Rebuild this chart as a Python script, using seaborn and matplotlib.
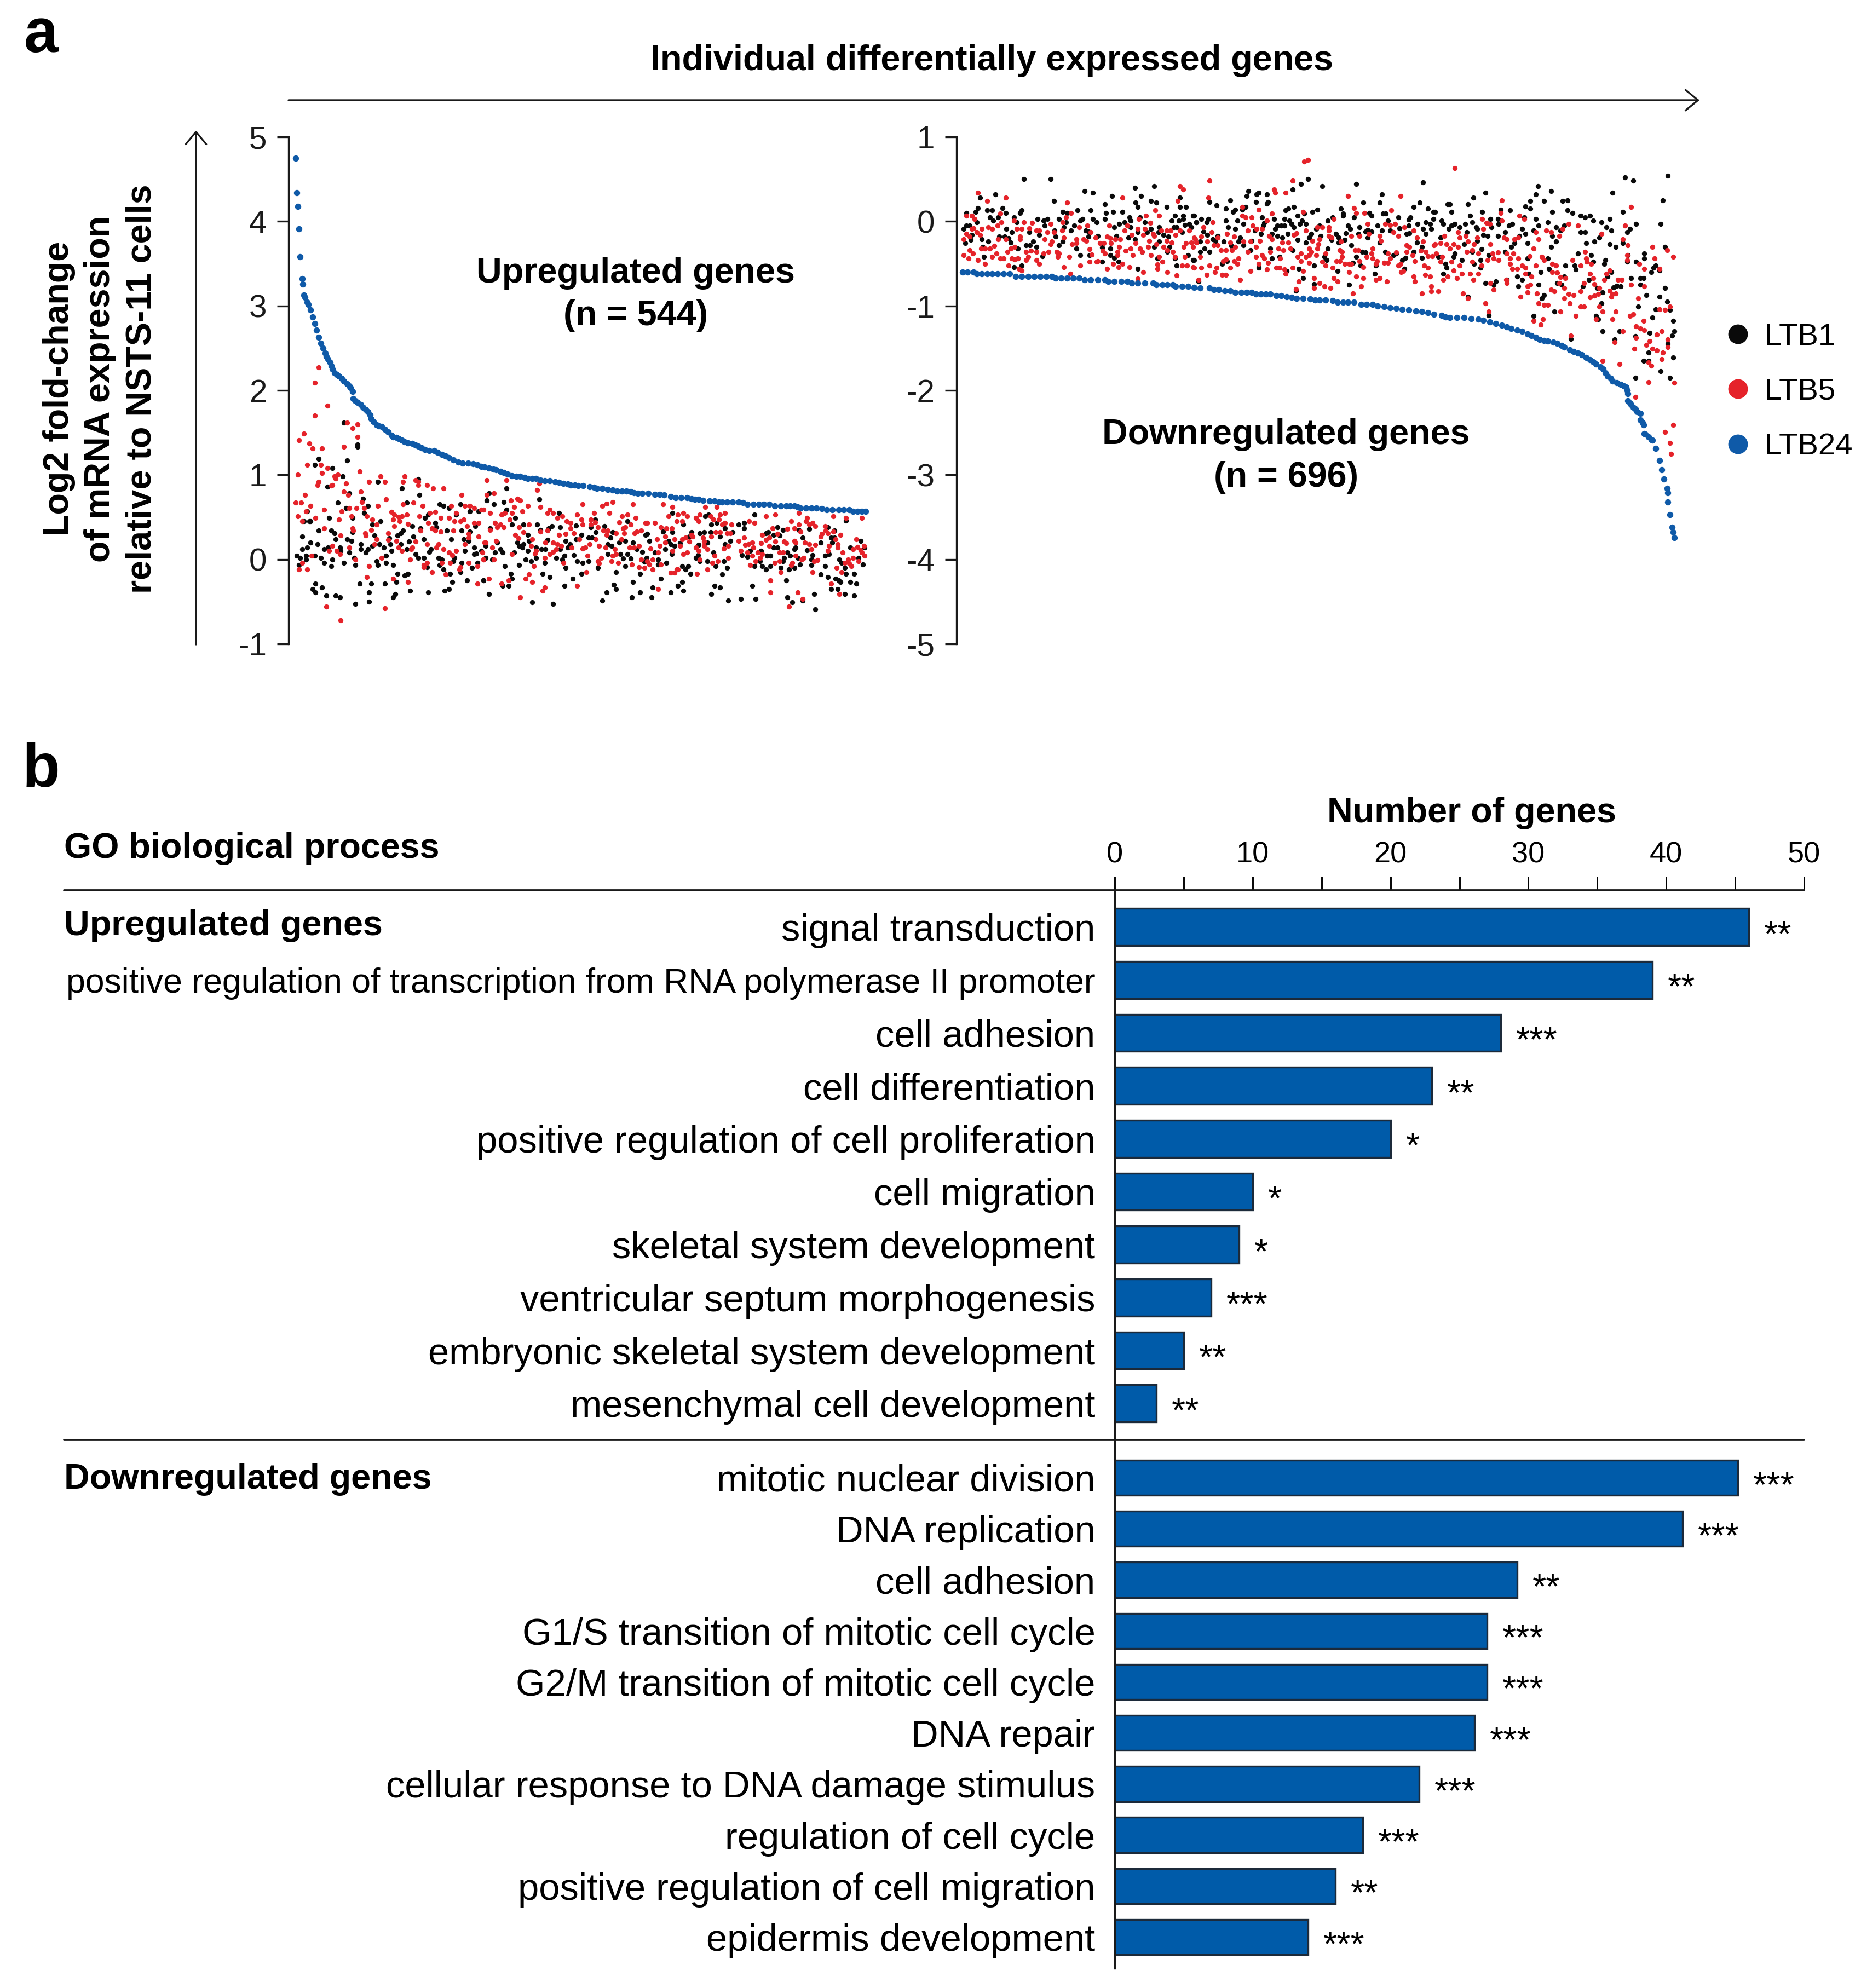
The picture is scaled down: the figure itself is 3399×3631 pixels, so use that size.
import pandas as pd
import seaborn as sns
import matplotlib
matplotlib.use('Agg')
import matplotlib.pyplot as plt
from matplotlib.lines import Line2D

# Values: (gene rank, log2 fold-change)
up_ltb24 = [(1,4.75),(2,4.34),(3,4.18),(4,3.91),(5,3.58),(7,3.32),(8,3.26),(9,3.13),(10,3.10),(12,3.04),(13,3.02),(15,2.95),(17,2.87),(19,2.79),(21,2.71),(23,2.63),(25,2.56),(27,2.50),(29,2.44),(30,2.40),(32,2.37),(34,2.33),(35,2.29),(36,2.25),(38,2.21),(40,2.19),(42,2.17),(45,2.14),(47,2.11),(50,2.08),(52,2.05),(53,2.03),(55,1.99),
    (56,1.90),(58,1.88),(60,1.86),(63,1.83),(65,1.80),(68,1.77),(70,1.75),(72,1.71),(73,1.66),(75,1.63),(78,1.59),(80,1.58),(83,1.57),(86,1.54),(89,1.51),(92,1.47),(94,1.45),(97,1.44),(99,1.43),(102,1.41),(105,1.39),(108,1.38),(112,1.37),(115,1.35),(118,1.34),(121,1.32),(124,1.30),(128,1.29),(133,1.29),(136,1.27),(140,1.24),(144,1.22),(147,1.20),(151,1.18),(156,1.15),(160,1.14),(165,1.14),(170,1.13),(174,1.12),(178,1.10),(181,1.09),(185,1.08),(189,1.07),(192,1.06),(196,1.04),(199,1.03),(203,1.01),(207,.99),(211,.98),(215,.98),(219,.97),(222,.96),(226,.96),(230,.96),(234,.94),(238,.93),(243,.93),(248,.92),(252,.91),(256,.90),(260,.89),(263,.88),(267,.88),(270,.87),(275,.87),(281,.86),(285,.85),(288,.84),(293,.84),(298,.83),(303,.82),(307,.81),(312,.81),(316,.81),(320,.80),(323,.79),(327,.78),(331,.78),(337,.78),(343,.77),(348,.77),(352,.76),(358,.74),(363,.73),(368,.73),(374,.73),(378,.72),(381,.71),(385,.71),(389,.70),(395,.69),(400,.69),(404,.68),(407,.68),(412,.68),(417,.68),
    (423,.68),(427,.67),(431,.65),(437,.65),(442,.65),(447,.65),(452,.65),(457,.63),(463,.63),(468,.63),(472,.63),(476,.63),(479,.62),(482,.61),(487,.61),(492,.61),(497,.61),(502,.60),(507,.59),(512,.59),(518,.59),(523,.59),(528,.59),(532,.57),(536,.57),(540,.57),(544,.57)]

up_ltb5 = [(23,2.27),(19,2.09),(31,1.82),(19,1.70),(50,1.62),(55,1.55),(60,1.60),(60,1.45),(9,1.49),(4,1.41),(14,1.37),(17,1.31),(26,1.31),(47,1.33),(12,1.12),(25,1.12),(31,1.08),(26,1.02),(3,1.00),(62,1.04),(38,.98),(41,1.0),(39,.96),(23,.92),(22,.88),(35,.87),(36,.88),(49,.90),(71,.92),(82,.98),(86,.92),(105,.98),(103,.92),(115,.94),(118,.88),(118,.92),(126,.88),(132,.84),(142,.84),(159,.76),(47,.80),(51,.76),(63,.80),(10,.76),(87,.71),(1,.67),(6,.67),(15,.63),(64,.68),(103,.65),(113,.67),(79,.63),(122,.63),(28,.59),(11,.57),(45,.57),(52,.61),(59,.61),(66,.61),(149,.63),(162,.63),(167,.63),(171,.61),(178,.59),(92,.56),(95,.53),(99,.50),(102,.51),(107,.53),(119,.51),(129,.55),(134,.56),(139,.49),(154,.55),(3,.51),(20,.49),(54,.51),(69,.51),(42,.47),(7,.45),(74,.47),(94,.47),(100,.45),(147,.49),(152,.45),(158,.45),(161,.47),(127,.43),(78,.41),(108,.42),(171,.43),(175,.43),(95,.39),(28,.37),(55,.37),(56,.34),(73,.35),(131,.37),(134,.34),(139,.33),(120,.34),(151,.34),(164,.39),(67,.31),(68,.28),(89,.31),(44,.28),(166,.30),(166,.26),(175,.27),(78,.24),(89,.23),(97,.22),(115,.21),(126,.18),(137,.18),(76,.18),(181,.20),(162,.18),(36,.16),(52,.14),(99,.14),(112,.14),(111,.12),(135,.14),(142,.12),(33,.10),(40,.10),(102,.10),(154,.10),(147,.08),(43,.06),(150,.05),(16,.04),(83,.02),(58,0),(110,0),(180,0),(7,-.04),(126,-.04),(123,-.07),(140,-.04),(148,-.04),(166,-.04),(71,-.08),(174,-.08),(123,-.09),(158,-.09),(4,-.12),(12,-.12),(157,-.12),(131,-.15),(144,-.18),(69,-.21),(94,-.23),(108,-.27),(174,-.29),(30,-.56),(86,-.58),(44,-.72),
    (183,.94),(202,.94),(233,.90),(231,.82),(190,.78),(183,.76),(212,.72),(215,.70),(206,.70),(222,.63),(209,.62),(217,.57),(234,.62),(274,.65),(293,.63),(297,.66),(303,.68),(322,.65),(351,.65),(360,.62),(180,.59),(186,.55),(243,.59),(241,.55),(246,.55),(285,.55),(300,.55),(200,.55),(197,.53),(207,.55),(205,.47),(269,.53),(312,.51),(317,.53),(325,.49),(356,.51),(365,.53),(250,.49),(255,.51),(259,.45),(263,.43),(273,.47),(282,.47),(282,.41),(286,.44),(309,.44),(334,.43),(336,.43),(343,.43),(364,.45),(191,.43),(196,.41),(193,.38),(199,.38),(223,.41),(214,.38),(274,.41),(289,.38),(320,.41),(349,.38),(354,.37),(359,.37),(186,.35),(234,.33),(241,.34),(263,.37),(266,.31),(294,.34),(298,.34),(315,.38),(313,.37),(314,.31),(330,.34),(326,.33),(324,.31),(218,.32),(210,.29),(252,.29),(258,.30),(297,.29),(306,.31),(213,.25),(226,.24),(271,.24),(287,.24),(311,.24),(345,.24),(353,.27),(362,.24),(182,.20),(192,.22),(239,.20),(246,.20),(250,.18),(254,.16),(353,.20),(281,.18),(225,.16),(188,.14),(290,.16),(319,.14),(323,.14),(328,.16),(339,.13),(348,.16),(274,.13),(277,.14),(296,.14),(264,.14),(305,.12),(249,.12),(246,.09),(243,.06),(230,.10),(229,.07),(360,.10),(179,.08),(346,.08),(207,.06),(279,.04),(306,.06),(303,.04),(238,.02),(292,.02),(180,0),(190,0),(330,0),(341,0),(336,-.02),(302,-.02),(289,-.02),(290,-.05),(256,-.04),(338,-.06),(349,-.06),(321,-.06),(308,-.04),(228,-.08),(328,-.09),(333,-.10),(341,-.12),(278,-.15),(358,-.16),(362,-.16),(364,-.12),(223,-.18),(220,-.23),(226,-.27),(185,-.23),(204,-.25),(197,-.29),(269,-.31),(238,-.33),(236,-.37),(346,-.35),(215,-.45),
    (391,.62),(402,.62),(480,.55),(370,.55),(374,.51),(386,.53),(382,.49),(385,.45),(396,.51),(399,.47),(404,.47),(405,.53),(410,.55),(449,.51),(458,.53),(513,.51),(525,.49),(540,.49),(488,.49),(487,.45),(490,.41),(493,.43),(473,.45),(496,.39),(433,.45),(438,.43),(369,.45),(410,.43),(407,.41),(416,.41),(480,.41),(476,.37),(469,.36),(455,.37),(505,.39),(401,.32),(405,.32),(412,.31),(415,.31),(482,.33),(506,.34),(508,.31),(513,.33),(502,.30),(501,.27),(520,.29),(460,.30),(445,.29),(378,.29),(379,.27),(376,.21),(397,.27),(372,.26),(369,.24),(428,.26),(452,.26),(449,.23),(444,.19),(515,.24),(535,.24),(389,.26),(390,.21),(423,.22),(458,.21),(466,.21),(468,.19),(476,.22),(477,.20),(429,.17),(436,.20),(432,.18),(486,.20),(490,.18),(496,.17),(509,.16),(517,.18),(517,.14),(413,.16),(452,.16),(367,.16),(390,.16),(382,.14),(437,.14),(393,.12),(409,.13),(492,.12),(542,.16),(536,.15),(532,.12),(539,.11),(385,.10),(425,.10),(508,.10),(374,.08),(370,.06),(431,.08),(441,.08),(445,.06),(443,.02),(462,.08),(465,.08),(522,.08),(543,.04),(540,.08),(436,.04),(477,.04),(400,.04),(413,.02),(532,.02),(527,0),(485,.02),(483,0),(386,0),(498,-.01),(495,-.02),(462,-.02),(439,-.02),(403,-.02),(398,-.04),(537,-.02),(524,-.04),(528,-.05),(530,-.08),(474,-.04),(473,-.07),(457,-.04),(434,-.07),(393,-.12),(365,-.12),(516,-.10),(521,-.15),(383,-.17),(463,-.15),(493,-.15),(453,-.25),(511,-.29),(453,-.39),(479,-.39),(519,-.41),(484,-.47),(471,-.56)]

up_ltb1 = [(47,1.62),(60,1.36),(60,1.33),(23,1.19),(50,1.17),(19,1.12),(36,1.08),(46,.98),(79,.92),(118,.95),(102,.84),(31,.86),(52,.78),(119,.76),(65,.72),(41,.67),(107,.67),(138,.65),(142,.63),(147,.61),(158,.65),(49,.61),(70,.63),(66,.55),(12,.57),(167,.57),(175,.57),(33,.49),(55,.49),(124,.49),(127,.53),(154,.53),(9,.45),(14,.45),(15,.45),(82,.45),(74,.41),(134,.43),(135,.38),(23,.34),(35,.34),(38,.31),(55,.32),(103,.34),(101,.31),(98,.28),(112,.39),(120,.37),(145,.34),(159,.34),(167,.33),(172,.39),(7,.27),(76,.28),(39,.24),(50,.24),(54,.22),(113,.27),(123,.24),(149,.24),(161,.24),(166,.22),(90,.25),(15,.20),(22,.18),(63,.18),(81,.18),(85,.14),(91,.18),(101,.18),(109,.21),(12,.14),(7,.12),(32,.14),(28,.12),(43,.14),(44,.10),(63,.12),(70,.12),(68,.08),(74,.16),(92,.10),(107,.12),(130,.12),(128,.09),(171,.14),(162,.10),(178,.10),(173,.07),(171,.06),(52,.08),(2,.04),(5,.02),(11,.04),(19,.04),(11,0),(87,.04),(115,.06),(118,.02),(123,.02),(25,.02),(36,0),(57,.02),(137,.02),(140,0),(152,.02),(151,-.02),(28,-.04),(47,-.04),(78,-.02),(79,-.07),(87,-.04),(4,-.07),(58,-.07),(94,-.07),(138,-.07),(159,-.04),(174,-.04),(35,-.08),(126,-.09),(169,-.10),(142,-.12),(148,-.17),(158,-.15),(98,-.17),(108,-.17),(105,-.19),(164,-.25),(180,-.25),(150,-.27),(97,-.27),(20,-.29),(17,-.35),(20,-.39),(26,-.33),(62,-.29),(73,-.29),(86,-.29),(71,-.39),(110,-.37),(127,-.39),(143,-.37),(147,-.35),(96,-.41),(94,-.45),(30,-.43),(39,-.43),(43,-.45),(71,-.50),(58,-.53),
    (185,.78),(202,.84),(183,.70),(190,.65),(199,.68),(233,.71),(202,.59),(252,.55),(210,.49),(360,.55),(317,.45),(286,.47),(207,.41),(218,.41),(231,.41),(245,.39),(242,.37),(253,.38),(268,.40),(295,.39),(186,.37),(282,.38),(234,.35),(287,.32),(303,.32),(351,.33),(360,.32),(222,.29),(273,.29),(336,.30),(334,.29),(301,.26),(280,.26),(283,.26),(268,.24),(223,.22),(241,.23),(258,.22),(338,.22),(309,.20),(315,.22),(322,.20),(193,.20),(356,.22),(358,.18),(212,.20),(214,.16),(218,.18),(217,.14),(182,.16),(262,.18),(260,.14),(298,.18),(302,.16),(362,.16),(230,.14),(235,.12),(239,.12),(196,.12),(326,.12),(353,.12),(253,.12),(222,.10),(191,.08),(198,.08),(266,.05),(331,.09),(343,.08),(209,.08),(298,.06),(310,.06),(317,.06),(313,.01),(320,.01),(359,.06),(257,.04),(255,0),(230,.02),(249,.02),(182,.02),(220,0),(346,0),(335,.02),(188,0),(225,-.02),(269,-.02),(274,-.04),(280,-.02),(238,-.04),(333,-.03),(354,-.04),(346,-.06),(200,-.08),(214,-.07),(315,-.08),(258,-.10),(289,-.10),(329,-.17),(306,-.15),(206,-.17),(207,-.23),(236,-.17),(273,-.17),(243,-.21),(265,-.23),(349,-.23),(180,-.25),(322,-.27),(198,-.31),(204,-.31),(257,-.31),(304,-.30),(306,-.35),(341,-.33),(365,-.31),(185,-.41),(297,-.39),(329,-.39),(358,-.39),(293,-.49),(321,-.45),(340,-.45),(226,-.51),(246,-.53),
    (438,.53),(394,.53),(391,.51),(525,.46),(370,.41),(428,.43),(423,.41),(428,.37),(402,.43),(397,.41),(410,.37),(460,.38),(465,.35),(480,.35),(490,.36),(508,.38),(514,.34),(378,.32),(390,.32),(386,.31),(396,.32),(417,.32),(451,.32),(449,.31),(405,.27),(376,.27),(456,.29),(462,.28),(484,.26),(511,.26),(514,.26),(512,.20),(415,.22),(539,.22),(393,.20),(367,.19),(501,.20),(410,.18),(385,.17),(456,.14),(460,.14),(477,.14),(476,.12),(529,.14),(543,.14),(488,.11),(434,.10),(444,.10),(399,.08),(469,.08),(426,.05),(472,.04),(493,.05),(509,.06),(505,.04),(382,.02),(384,.05),(431,.03),(450,.04),(453,.04),(466,.02),(479,.02),(537,.02),(519,0),(521,-.04),(393,-.02),(409,-.02),(386,-.02),(443,-.02),(492,0),(492,-.07),(465,-.02),(481,-.06),(476,-.10),(471,-.12),(541,-.06),(369,-.08),(375,-.08),(372,-.12),(401,-.08),(438,-.08),(445,-.08),(449,-.12),(453,-.08),(505,-.08),(463,-.10),(524,-.10),(412,-.10),(377,-.17),(407,-.18),(525,-.17),(533,-.17),(501,-.18),(508,-.21),(515,-.23),(518,-.25),(520,-.27),(468,-.25),(529,-.27),(535,-.29),(369,-.27),(365,-.31),(400,-.31),(405,-.33),(436,-.31),(370,-.37),(511,-.35),(517,-.35),(397,-.41),(495,-.41),(524,-.41),(533,-.43),(469,-.45),(425,-.47),(439,-.47),(413,-.49),(474,-.51),(484,-.49),(496,-.59)]

down_ltb24 = [(2,-.60),(7,-.60),(13,-.60),(16,-.62),(21,-.62),(26,-.62),(31,-.62),(36,-.62),(42,-.62),(48,-.62),(54,-.65),(60,-.65),(66,-.65),(72,-.65),(78,-.65),(84,-.65),(89,-.65),(93,-.67),(98,-.67),(104,-.67),(110,-.67),(116,-.67),(121,-.69),(127,-.69),(134,-.69),(141,-.69),(144,-.71),(150,-.71),(157,-.71),(163,-.71),(167,-.73),(173,-.73),(180,-.73),(188,-.73),(191,-.75),(197,-.75),(202,-.75),(207,-.75),(210,-.77),(216,-.77),(222,-.77),(228,-.78),(234,-.79),(243,-.79),(247,-.81),(252,-.81),(258,-.82),(263,-.82),(268,-.84),(274,-.84),(279,-.84),(284,-.84),(288,-.86),(293,-.86),(298,-.86),(302,-.86),(308,-.88),(313,-.88),(318,-.89),(323,-.90),(328,-.91),(334,-.91),(341,-.92),(346,-.93),(350,-.93),(356,-.93),(363,-.94),(368,-.96),(373,-.96),(378,-.96),(384,-.96),(391,-.98),(396,-.98),(402,-.98),(407,-1.00),(413,-1.01),(419,-1.02),(425,-1.03),(431,-1.04),(437,-1.05),(444,-1.06),(450,-1.07),(456,-1.08),(462,-1.10),(469,-1.11),(473,-1.13),(477,-1.14),(484,-1.14),(491,-1.14),(498,-1.15),(505,-1.16),(510,-1.17),(516,-1.19),(522,-1.21),(528,-1.23),(533,-1.25),(537,-1.27),(543,-1.29),(548,-1.30),(553,-1.33),(557,-1.35),(561,-1.37),(565,-1.40),(569,-1.41),(573,-1.42),(578,-1.43),(582,-1.44),(586,-1.47),(589,-1.49),(594,-1.52),(598,-1.54),(602,-1.56),(606,-1.58),(610,-1.61),(614,-1.64),(617,-1.66),(620,-1.69),(624,-1.72),(627,-1.75),(629,-1.79),(631,-1.83),(634,-1.86),(636,-1.89),(640,-1.91),(644,-1.93),(647,-1.95),(649,-1.96),(650,-2.00),(651,-2.04),
    (651,-2.12),(653,-2.15),(654,-2.17),(656,-2.20),(658,-2.22),(660,-2.25),(663,-2.27),(663,-2.35),(665,-2.38),(666,-2.41),
    (667,-2.51),(668,-2.52),(671,-2.55),(674,-2.58),(675,-2.59),(678,-2.69),(682,-2.83),(684,-2.94),(686,-3.05),(689,-3.16),(690,-3.21),(690,-3.32),(692,-3.47),(694,-3.62),(695,-3.68),(696,-3.74)]

down_ltb5 = [(17,.34),(26,.24),(44,.28),(104,.22),(158,.28),(214,.42),(217,.38),(212,.24),(190,.13),(194,.07),(108,.10),(103,.05),(6,.07),(11,.07),(14,.03),(39,.09),(52,.01),(40,-.01),(36,-.05),(62,-.01),(70,-.02),(100,-.01),(88,-.03),(174,.03),(181,.07),(185,-.02),(145,-.05),(124,-.05),(116,-.07),(163,-.05),(27,-.07),(31,-.09),(21,-.09),(13,-.08),(11,-.09),(55,-.09),(60,-.09),(67,-.08),(173,-.09),(180,-.09),(196,-.11),(201,-.11),(205,-.11),(214,-.11),(223,-.11),(77,-.11),(74,-.11),(85,-.13),(91,-.13),(99,-.11),(127,-.13),(160,-.11),(6,-.15),(16,-.13),(19,-.16),(188,-.15),(189,-.17),(167,-.16),(178,-.16),(210,-.16),(132,-.19),(143,-.18),(146,-.20),(101,-.19),(9,-.18),(3,-.21),(37,-.21),(44,-.21),(58,-.18),(58,-.21),(82,-.21),(113,-.21),(120,-.21),(156,-.21),(228,-.19),(184,-.23),(171,-.26),(151,-.21),(136,-.26),(140,-.26),(88,-.27),(89,-.24),(109,-.27),(113,-.26),(123,-.23),(206,-.25),(201,-.23),(225,-.25),(220,-.26),(147,-.26),(155,-.30),(191,-.27),(198,-.30),(183,-.30),(218,-.30),(227,-.30),(20,-.32),(24,-.32),(29,-.32),(33,-.29),(49,-.32),(53,-.30),(9,-.34),(126,-.33),(166,-.32),(161,-.35),(175,-.32),(139,-.35),(141,-.38),(153,-.36),(202,-.34),(46,-.36),(12,-.38),(35,-.38),(64,-.36),(69,-.35),(74,-.36),(81,-.38),(86,-.36),(94,-.36),(96,-.38),(128,-.39),(177,-.36),(207,-.36),(3,-.40),(153,-.40),(168,-.40),(186,-.40),(66,-.42),(31,-.42),(106,-.42),(95,-.42),(8,-.44),(39,-.44),(42,-.44),(194,-.42),(219,-.42),(209,-.42),(50,-.44),(53,-.45),(56,-.44),(17,-.46),(64,-.46),(74,-.46),(24,-.50),(126,-.48),(133,-.48),(134,-.47),(77,-.50),(149,-.50),(158,-.50),(197,-.48),(192,-.51),(192,-.56),(47,-.52),(117,-.52),(216,-.52),(221,-.52),(101,-.54),(143,-.56),(154,-.54),(165,-.54),(227,-.54),(57,-.56),(60,-.58),(178,-.60),(202,-.60),(107,-.62),(211,-.64),(173,-.68),
    (335,.71),(339,.73),(243,.48),(324,.48),(306,.38),(307,.34),(317,.34),(242,.28),(378,.30),(429,.30),(275,.17),(291,.14),(384,.16),(420,.13),(304,.09),(334,.11),(275,.07),(278,.05),(284,.05),(386,.10),(394,.10),(364,.03),(246,-.01),(299,.01),(397,-.03),(414,-.03),(419,-.04),(424,-.03),(285,-.05),(289,-.09),(294,-.09),(237,-.07),(348,-.07),(353,-.07),(359,-.07),(359,-.11),(433,-.07),(280,-.11),(337,-.11),(442,-.11),(245,-.13),(260,-.15),(398,-.15),(422,-.13),(328,-.14),(325,-.16),(301,-.17),(304,-.21),(267,-.18),(251,-.19),(235,-.18),(229,-.21),(230,-.25),(359,-.17),(362,-.19),(381,-.17),(389,-.17),(409,-.17),(410,-.23),(427,-.17),(445,-.19),(292,-.23),(241,-.24),(343,-.23),(350,-.21),(349,-.27),(371,-.24),(283,-.24),(276,-.24),(263,-.25),(314,-.25),(320,-.25),(451,-.24),(247,-.28),(251,-.28),(435,-.28),(438,-.30),(288,-.30),(268,-.30),(322,-.32),(462,-.28),(254,-.34),(259,-.34),(265,-.34),(310,-.32),(315,-.34),(340,-.32),(342,-.36),(348,-.32),(370,-.34),(372,-.36),(385,-.34),(388,-.34),(402,-.32),(280,-.36),(302,-.36),(435,-.36),(449,-.35),(454,-.36),(332,-.38),(401,-.38),(347,-.40),(356,-.38),(417,-.38),(425,-.37),(441,-.40),(460,-.41),(456,-.41),(288,-.42),(294,-.40),(296,-.44),(329,-.42),(337,-.42),(340,-.40),(372,-.42),(396,-.42),(312,-.44),(271,-.44),(234,-.42),(259,-.45),(256,-.47),(267,-.47),(332,-.47),(367,-.47),(370,-.47),(389,-.47),(402,-.44),(419,-.44),(406,-.47),(443,-.47),(270,-.50),(300,-.49),(340,-.49),(353,-.48),(375,-.50),(379,-.50),(381,-.50),(413,-.49),(417,-.49),(405,-.50),(429,-.50),(427,-.52),(291,-.50),(243,-.52),(356,-.52),(452,-.52),(456,-.55),(235,-.55),(228,-.55),(250,-.55),(248,-.60),(263,-.55),(308,-.55),(311,-.55),(316,-.57),(324,-.55),(363,-.55),(393,-.54),(299,-.57),(283,-.59),(317,-.62),(334,-.59),(432,-.59),(430,-.60),(379,-.60),(255,-.63),(259,-.63),(240,-.63),(453,-.63),(458,-.65),(386,-.65),(442,-.65),(345,-.67),(364,-.67),(393,-.67),(409,-.67),(405,-.69),(273,-.69),(232,-.69),(330,-.71),(368,-.71),(416,-.71),(443,-.71),(350,-.73),(355,-.77),(391,-.77),(459,-.77),(327,-.80),(345,-.79),(361,-.79),(383,-.85),(450,-.85),(459,-.83),
    (482,.63),(528,.25),(654,.17),(527,.10),(509,.03),(513,-.02),(516,-.03),(528,.01),(545,.07),(550,.03),(593,-.03),(602,-.05),(648,-.05),(625,-.15),(510,-.09),(587,-.09),(571,-.11),(576,-.13),(561,-.13),(485,-.13),(584,-.17),(472,-.17),(493,-.17),(487,-.19),(495,-.24),(504,-.19),(530,-.19),(533,-.21),(540,-.21),(544,-.19),(564,-.21),(646,-.21),(651,-.28),(468,-.26),(463,-.27),(474,-.27),(477,-.32),(481,-.27),(485,-.30),(517,-.27),(501,-.27),(675,-.30),(559,-.32),(689,-.34),(494,-.36),(499,-.34),(505,-.38),(519,-.38),(524,-.37),(533,-.38),(539,-.38),(609,-.36),(650,-.40),(695,-.42),(464,-.38),(470,-.42),(555,-.41),(567,-.42),(569,-.46),(520,-.44),(525,-.46),(536,-.44),(544,-.44),(677,-.44),(514,-.46),(597,-.46),(610,-.44),(611,-.48),(468,-.48),(479,-.48),(499,-.48),(615,-.50),(650,-.46),(536,-.50),(577,-.50),(581,-.52),(487,-.52),(508,-.52),(561,-.52),(605,-.52),(662,-.50),(548,-.52),(551,-.55),(538,-.56),(543,-.56),(481,-.58),(667,-.56),(682,-.56),(633,-.58),(630,-.62),(577,-.60),(582,-.61),(551,-.62),(489,-.62),(497,-.62),(505,-.62),(557,-.65),(614,-.62),(617,-.67),(475,-.65),(471,-.69),(484,-.67),(500,-.69),(585,-.66),(590,-.67),(628,-.69),(641,-.69),(645,-.69),(532,-.69),(533,-.73),(517,-.73),(654,-.75),(608,-.73),(584,-.73),(618,-.74),(667,-.77),(556,-.75),(553,-.77),(589,-.79),(623,-.79),(520,-.81),(466,-.83),(605,-.83),(553,-.84),(576,-.81),(579,-.83),(633,-.82),(636,-.86),(639,-.85),(490,-.85),(562,-.85),(622,-.86),(598,-.87),(593,-.86),(589,-.91),(495,-.91),(546,-.89),(614,-.90),(618,-.88),(635,-.89),(661,-.91),(512,-.97),(594,-.97),(564,-.97),(569,-.99),(573,-.99),(605,-1.01),(608,-1.01),(515,-1.07),(623,-1.01),(585,-1.07),(626,-1.07),(639,-1.07),(682,-1.04),(687,-1.05),(692,-1.01),(600,-1.12),(656,-1.10),(653,-1.12),(666,-1.18),(568,-1.16),(559,-1.18),(566,-1.22),(620,-1.16),(636,-1.16),(659,-1.24),(663,-1.27),(667,-1.29),(646,-1.30),(684,-1.30),(679,-1.34),(595,-1.35),(659,-1.38),(638,-1.43),(690,-1.40),(690,-1.49),(672,-1.42),(669,-1.46),(657,-1.51),(675,-1.51),(679,-1.53),(685,-1.55),(684,-1.63),(626,-1.65),(671,-1.67),(674,-1.71),(643,-1.69),(671,-1.90),(696,-1.91),(658,-2.08),(695,-2.41),(687,-2.49),(692,-2.62),(693,-2.75)]

down_ltb1 = [(62,.50),(88,.50),(170,.40),(189,.42),(121,.36),(129,.34),(34,.32),(19,.28),(148,.30),(176,.30),(214,.28),(91,.24),(171,.22),(173,.17),(186,.24),(191,.22),(141,.20),(201,.17),(214,.17),(220,.17),(17,.16),(15,.11),(26,.13),(31,.13),(41,.16),(60,.13),(58,.10),(114,.13),(127,.13),(100,.11),(104,.10),(149,.11),(158,.11),(142,.10),(6,.10),(44,.10),(209,.07),(217,.07),(227,.07),(29,.05),(37,.05),(32,.01),(52,.05),(165,.05),(166,.01),(141,.03),(129,.03),(133,-.01),(75,.03),(85,.03),(81,.01),(96,.03),(119,.03),(117,.01),(175,.05),(217,.03),(206,.01),(213,.01),(16,-.01),(55,-.01),(160,-.01),(155,-.03),(180,-.01),(103,-.01),(219,-.04),(223,-.03),(6,-.05),(9,-.05),(82,-.05),(111,-.05),(230,-.01),(150,-.07),(3,-.09),(45,-.09),(166,-.07),(186,-.09),(194,-.07),(208,-.07),(211,-.07),(225,-.07),(108,-.11),(101,-.07),(50,-.13),(67,-.13),(122,-.11),(125,-.12),(92,-.11),(173,-.13),(182,-.13),(193,-.13),(198,-.16),(203,-.18),(216,-.13),(77,-.16),(38,-.18),(43,-.18),(152,-.17),(11,-.16),(93,-.18),(125,-.18),(134,-.17),(164,-.19),(170,-.21),(21,-.21),(47,-.20),(49,-.25),(194,-.24),(27,-.24),(71,-.24),(100,-.24),(10,-.22),(5,-.26),(64,-.28),(68,-.28),(96,-.28),(204,-.30),(22,-.30),(74,-.30),(56,-.32),(113,-.32),(138,-.31),(146,-.32),(189,-.30),(177,-.36),(202,-.36),(146,-.40),(150,-.43),(117,-.40),(126,-.40),(80,-.41),(222,-.40),(23,-.42),(192,-.44),(209,-.44),(227,-.46),(56,-.44),(138,-.48),(154,-.48),(60,-.52),(211,-.52),(52,-.54),(173,-.56),
    (339,.50),(332,.44),(324,.38),(353,.42),(386,.44),(451,.46),(281,.36),(279,.30),(291,.34),(289,.32),(299,.32),(411,.32),(263,.25),(243,.23),(250,.19),(288,.23),(300,.23),(299,.21),(393,.22),(409,.22),(448,.22),(259,.15),(278,.17),(275,.14),(325,.17),(320,.15),(317,.13),(268,.14),(266,.11),(371,.15),(442,.17),(456,.15),(348,.14),(343,.11),(373,.09),(373,.07),(335,.09),(399,.10),(401,.07),(412,.09),(415,.09),(461,.11),(329,.07),(228,.07),(294,.05),(384,.05),(363,.05),(358,.01),(427,.05),(439,.05),(437,.02),(242,.03),(240,-.01),(235,.03),(316,.03),(306,.03),(259,.01),(270,.01),(321,.01),(323,-.03),(333,.01),(331,-.03),(337,-.03),(417,.01),(454,-.01),(461,.03),(458,-.03),(230,-.01),(276,-.03),(296,-.02),(295,-.05),(446,-.03),(378,-.05),(407,-.05),(437,-.05),(313,-.05),(309,-.05),(316,-.05),(350,-.05),(261,-.07),(325,-.07),(268,-.09),(380,-.09),(389,-.07),(307,-.09),(347,-.09),(428,-.08),(451,-.09),(459,-.09),(397,-.10),(395,-.12),(401,-.12),(411,-.11),(419,-.11),(287,-.11),(376,-.14),(237,-.12),(241,-.16),(366,-.15),(293,-.15),(319,-.15),(304,-.15),(342,-.15),(435,-.15),(438,-.14),(454,-.15),(388,-.15),(397,-.19),(251,-.17),(309,-.17),(351,-.17),(369,-.19),(314,-.19),(340,-.19),(246,-.21),(249,-.23),(273,-.19),(271,-.24),(329,-.22),(375,-.22),(362,-.22),(257,-.24),(234,-.24),(284,-.23),(337,-.25),(369,-.25),(445,-.25),(276,-.28),(409,-.25),(381,-.28),(264,-.29),(450,-.30),(238,-.32),(302,-.32),(358,-.32),(283,-.34),(324,-.34),(234,-.36),(243,-.36),(392,-.36),(395,-.37),(414,-.36),(442,-.36),(425,-.38),(422,-.40),(311,-.42),(386,-.42),(355,-.42),(357,-.46),(434,-.43),(431,-.46),(450,-.43),(304,-.44),(228,-.46),(260,-.47),(383,-.49),(255,-.50),(345,-.52),(390,-.52),(405,-.52),(291,-.55),(330,-.56),(433,-.56),(368,-.59),(318,-.59),(404,-.62),(334,-.67),(379,-.75),(345,-.74),(232,-.71),(327,-.82),
    (648,.52),(656,.48),(690,.54),(563,.42),(576,.36),(561,.32),(512,.34),(636,.34),(500,.28),(685,.25),(556,.24),(551,.18),(556,.15),(569,.24),(587,.24),(592,.25),(475,.20),(477,.20),(479,.11),(495,.20),(463,.11),(509,.11),(527,.14),(536,.13),(577,.11),(592,.13),(597,.10),(646,.11),(605,.07),(609,.05),(614,.07),(497,.07),(517,.03),(524,.03),(525,-.03),(550,.05),(561,.03),(617,.01),(633,.03),(625,-.01),(469,.01),(471,-.03),(499,-.01),(482,-.03),(479,-.05),(476,-.09),(492,-.03),(538,-.03),(535,-.05),(573,-.01),(564,-.05),(659,-.03),(683,-.03),(589,-.05),(487,-.07),(503,-.07),(504,-.09),(518,-.07),(581,-.07),(585,-.11),(630,-.07),(548,-.09),(653,-.09),(650,-.13),(559,-.11),(635,-.11),(494,-.13),(531,-.13),(551,-.15),(605,-.13),(609,-.13),(510,-.16),(514,-.17),(524,-.17),(545,-.17),(577,-.17),(468,-.19),(623,-.19),(618,-.24),(581,-.24),(504,-.23),(553,-.26),(610,-.26),(540,-.26),(537,-.30),(646,-.26),(491,-.27),(633,-.27),(639,-.30),(576,-.30),(687,-.30),(508,-.33),(499,-.36),(531,-.36),(482,-.38),(481,-.42),(602,-.38),(615,-.40),(515,-.40),(466,-.42),(651,-.40),(667,-.38),(667,-.44),(573,-.44),(553,-.44),(489,-.46),(507,-.46),(629,-.46),(628,-.50),(659,-.48),(617,-.48),(650,-.48),(501,-.50),(590,-.52),(599,-.52),(600,-.57),(473,-.50),(474,-.55),(507,-.55),(574,-.56),(678,-.52),(676,-.55),(674,-.60),(682,-.58),(566,-.60),(471,-.62),(554,-.62),(635,-.60),(631,-.65),(589,-.65),(543,-.65),(613,-.69),(654,-.67),(663,-.67),(666,-.67),(548,-.69),(533,-.69),(522,-.71),(520,-.75),(512,-.73),(582,-.73),(586,-.75),(663,-.75),(564,-.75),(640,-.76),(644,-.77),(637,-.78),(544,-.77),(607,-.77),(687,-.79),(621,-.79),(626,-.84),(669,-.87),(569,-.87),(567,-.91),(495,-.89),(682,-.89),(689,-.95),(625,-.97),(661,-1.01),(678,-1.04),(692,-1.05),(579,-1.07),(559,-1.12),(515,-1.11),(620,-1.12),(622,-1.16),(675,-1.14),(695,-1.18),(626,-1.30),(643,-1.30),(696,-1.30),(694,-1.35),(672,-1.32),(658,-1.36),(595,-1.39),(638,-1.40),(690,-1.45),(671,-1.55),(695,-1.61),(666,-1.65),(671,-1.65),(683,-1.77),(658,-1.85),(692,-1.85),(651,-2.0)]

up_terms = ['signal transduction', 'positive regulation of transcription from RNA polymerase II promoter',
            'cell adhesion', 'cell differentiation', 'positive regulation of cell proliferation', 'cell migration',
            'skeletal system development', 'ventricular septum morphogenesis',
            'embryonic skeletal system development', 'mesenchymal cell development']
up_counts = [46, 39, 28, 23, 20, 10, 9, 7, 5, 3]
up_stars = ['**', '**', '***', '**', '*', '*', '*', '***', '**', '**']

down_terms = ['mitotic nuclear division', 'DNA replication', 'cell adhesion', 'G1/S transition of mitotic cell cycle',
              'G2/M transition of mitotic cell cycle', 'DNA repair', 'cellular response to DNA damage stimulus',
              'regulation of cell cycle', 'positive regulation of cell migration', 'epidermis development']
down_counts = [45.2, 41.2, 29.2, 27, 27, 26.1, 22.1, 18, 16, 14]
down_stars = ['***', '***', '**', '***', '***', '***', '***', '***', '**', '***']

WIDTH, HEIGHT = 3399, 3631
BLACK, RED, BLUE = '#0a0a0a', '#e5232a', '#0f5aa8'
BAR_BLUE = '#005ba9'
TICK_SIZE = 14
HEAD_SIZE = 15.5
TERM_SIZE = 16.5

sns.set_theme(style='white')
plt.rcParams['font.family'] = ['Liberation Sans', 'DejaVu Sans']
plt.rcParams['axes.unicode_minus'] = False
plt.rcParams['axes.edgecolor'] = '#1a1a1a'
plt.rcParams['text.color'] = 'black'

fig = plt.figure(figsize=(WIDTH / 300, HEIGHT / 300), dpi=300, facecolor='white')


def box(left, top, right, bottom):
    return fig.add_axes([left / WIDTH, 1 - bottom / HEIGHT, (right - left) / WIDTH, (bottom - top) / HEIGHT])


def px_text(x, y, s, **kw):
    fig.text(x / WIDTH, 1 - y / HEIGHT, s, **kw)


def px_arrow(x0, y0, x1, y1):
    fig.add_artist(matplotlib.patches.FancyArrowPatch(
        (x0 / WIDTH, 1 - y0 / HEIGHT), (x1 / WIDTH, 1 - y1 / HEIGHT), transform=fig.transFigure,
        arrowstyle='->,head_length=0.55,head_width=0.45', mutation_scale=10, lw=0.8, color='#1a1a1a',
        shrinkA=0, shrinkB=0))


def px_hline(y, x0, x1):
    fig.add_artist(Line2D([x0 / WIDTH, x1 / WIDTH], [1 - y / HEIGHT] * 2, color='#1a1a1a', lw=0.9))


def scatter_panel(ax, ltb1, ltb5, ltb24, ylim, xlim, yticks):
    for pts, col, size in [(ltb1, BLACK, 5), (ltb5, RED, 5), (ltb24, BLUE, 7.5)]:
        df = pd.DataFrame(pts, columns=['rank', 'log2fc'])
        sns.scatterplot(data=df, x='rank', y='log2fc', color=col, s=size, linewidth=0, ax=ax, legend=False)
    ax.set_xlim(*xlim)
    ax.set_ylim(*ylim)
    ax.set_yticks(yticks)
    ax.set_xticks([])
    ax.set_xlabel('')
    ax.set_ylabel('')
    ax.tick_params(axis='y', left=True, length=5, width=0.8, pad=4.5, labelsize=TICK_SIZE, colors='#1a1a1a')
    sns.despine(ax=ax, top=True, right=True, bottom=True)
    ax.spines['left'].set_linewidth(0.8)
    ax.patch.set_alpha(0)


# panel a
ax_up = box(527, 250, 1590, 1176)
scatter_panel(ax_up, up_ltb1, up_ltb5, up_ltb24, (-1, 5), (-5.78, 548.5), range(-1, 6))
ax_down = box(1747, 250, 3065, 1176)
scatter_panel(ax_down, down_ltb1, down_ltb5, down_ltb24, (-5, 1), (-3.8, 699.9), range(-5, 2))

px_text(75, 66, 'a', fontsize=27, fontweight='bold', ha='center', va='center')
px_text(75, 1408, 'b', fontsize=27, fontweight='bold', ha='center', va='center')

px_text(1811, 111, 'Individual differentially expressed genes', fontsize=HEAD_SIZE, fontweight='bold', ha='center', va='center')
px_arrow(527, 183, 3104, 183)
px_arrow(358, 1177, 358, 238)
px_text(183, 710, 'Log2 fold-change\nof mRNA expression\nrelative to NSTS-11 cells', fontsize=HEAD_SIZE, fontweight='bold',
        rotation=90, ha='center', va='center', multialignment='center', linespacing=1.32)
px_text(1161, 538, 'Upregulated genes\n(n = 544)', fontsize=HEAD_SIZE, fontweight='bold', ha='center', va='center', linespacing=1.37)
px_text(2349, 833, 'Downregulated genes\n(n = 696)', fontsize=HEAD_SIZE, fontweight='bold', ha='center', va='center', linespacing=1.37)

legend_handles = [Line2D([], [], marker='o', linestyle='', color=c, markersize=8.6, markeredgewidth=0) for c in (BLACK, RED, BLUE)]
fig.legend(legend_handles, ['LTB1', 'LTB5', 'LTB24'], loc='center left', bbox_to_anchor=(3118 / WIDTH, 1 - 716 / HEIGHT),
           frameon=False, fontsize=13.5, labelspacing=0.86, handletextpad=-0.15, borderpad=0, borderaxespad=0)


def bar_panel(ax, terms, counts, stars, ylim, bar_width):
    sns.barplot(x=counts, y=terms, orient='h', color=BAR_BLUE, saturation=1, width=bar_width,
                edgecolor='#1c2a3a', linewidth=0.8, ax=ax)
    ax.set_xlim(0, 50)
    ax.set_ylim(*ylim)
    ax.set_xlabel('')
    ax.set_ylabel('')
    ax.tick_params(axis='y', left=False, pad=2.5, labelsize=TERM_SIZE, colors='black')
    # the long promoter label is set smaller so it fits the column
    for label in ax.get_yticklabels():
        if len(label.get_text()) > 60:
            label.set_fontsize(15)
    sns.despine(ax=ax, top=True, right=True, bottom=True)
    ax.spines['left'].set_linewidth(0.8)
    ax.patch.set_alpha(0)
    for i, (value, star) in enumerate(zip(counts, stars)):
        ax.annotate(star, (value, i), xytext=(6.7, -4), textcoords='offset points', fontsize=15.5, ha='left', va='center')


# panel b
ax_b_up = box(2036, 1626, 3295, 2630)
bar_panel(ax_b_up, up_terms, up_counts, up_stars, (9.69, -0.693), 0.70)
ax_b_up.xaxis.tick_top()
ax_b_up.set_xticks(range(0, 51, 5))
ax_b_up.set_xticklabels(['0', '', '10', '', '20', '', '30', '', '40', '', '50'])
ax_b_up.tick_params(axis='x', top=True, bottom=False, length=6, width=0.7, pad=3.5, labelsize=13, colors='black')

ax_b_down = box(2036, 2630, 3295, 3595)
bar_panel(ax_b_down, down_terms, down_counts, down_stars, (9.61, -0.74), 0.69)
ax_b_down.set_xticks([])

px_hline(1626, 117, 3295)
px_hline(2630, 117, 3295)

px_text(2688, 1485, 'Number of genes', fontsize=HEAD_SIZE, fontweight='bold', ha='center', va='center')
px_text(117, 1550, 'GO biological process', fontsize=HEAD_SIZE, fontweight='bold', ha='left', va='center')
px_text(117, 1691, 'Upregulated genes', fontsize=HEAD_SIZE, fontweight='bold', ha='left', va='center')
px_text(117, 2702, 'Downregulated genes', fontsize=HEAD_SIZE, fontweight='bold', ha='left', va='center')

fig.savefig('out.png', dpi=300, facecolor='white')
